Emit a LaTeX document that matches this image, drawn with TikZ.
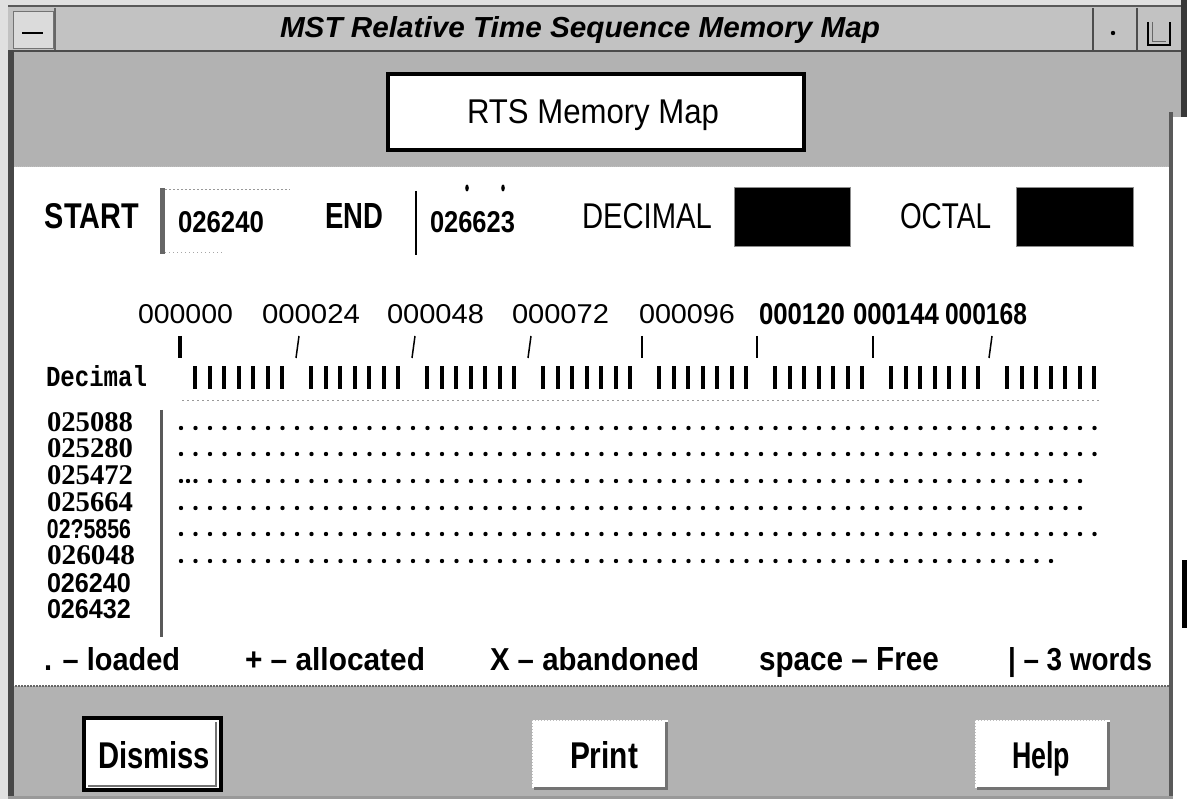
\documentclass[tikz,border=0pt]{standalone}
\usepackage{fontspec}
\usepackage{graphicx}
\setmainfont{Liberation Sans}
\newfontfamily\serifb{Liberation Serif}
\newfontfamily\monob{Liberation Mono}
\newcommand{\fitt}[3]{\resizebox{#1pt}{#2pt}{#3}}
\begin{document}
\begin{tikzpicture}[x=1pt,y=-1pt,
  txt/.style={inner sep=0pt,outer sep=0pt,anchor=base west},
  panelgray/.style={fill=black!30},
  bar/.style={fill=black}]
\useasboundingbox (0,0) rectangle (1187,799);
\fill[white] (0,0) rectangle (1187,799);
% outer light strips
\fill[black!12] (0,0) rectangle (8,799);
\fill[black!12] (0,0) rectangle (1187,5);
% title bar
\fill[black!24] (8,5) rectangle (1184,52);
\draw[black!65,line width=1.5] (8,6) -- (1184,6);
\draw[black!70,line width=1.5] (8,51) -- (1181,51);
\fill[black!14] (13,12) rectangle (53,49);
\draw[black!55,line width=1] (13,12) rectangle (53,49);
\draw[black!60,line width=1.2] (55,8) -- (55,50);
\draw[line width=1.6] (22,33) -- (43,33);
\draw[black!70,line width=1.2] (1093,8) -- (1093,50);
\draw[black!70,line width=1.2] (1137,8) -- (1137,50);
\fill (1113,33) circle (2.2);
\draw[line width=1.6] (1148,22) -- (1148,45) -- (1170,45) -- (1170,22);
\draw[black!60,line width=0.8] (1152,22) -- (1152,41) -- (1166,41);
\node[txt] (title) at (280,38) {\fitt{600}{21}{\bfseries\itshape MST Relative Time Sequence Memory Map}};
% body gray
\fill[black!30] (14,52) rectangle (1172,167);
\fill[black!30] (1172,52) rectangle (1181,117);
\fill[black!30] (14,686) rectangle (1172,796);
% white panel
\fill[white] (15,167) rectangle (1170,686);
\draw[black!25,line width=1,dash pattern=on 1pt off 1pt] (15,167) -- (1170,167);
\draw[black!60,line width=1.2,dash pattern=on 2pt off 1pt] (15,686) -- (1170,686);
% frame
\fill[black!72] (8,50) rectangle (14,799);
\fill[black!78] (1181,0) rectangle (1187,117);
\fill[black!65] (1169,112) rectangle (1173,799);
\fill[black!40] (8,796) rectangle (1173,799);
\fill[black] (1182,560) rectangle (1187,628);
% RTS button
\draw[line width=4,fill=white] (388,74) rectangle (804,150);
\node[txt] (rts) at (467,124) {\fitt{252}{24}{RTS Memory Map}};
% START row
\node[txt] (start) at (45,229) {\fitt{94}{25}{\bfseries START}};
\fill[black!60] (160,188) rectangle (165,254);
\draw[black!40,dash pattern=on 2pt off 2pt] (165,189) -- (290,189);
\draw[black!35,dash pattern=on 1pt off 3pt] (165,252) -- (222,252);
\node[txt] (startval) at (178,233) {\fitt{86}{21}{\bfseries 026240}};
\node[txt] (endlbl) at (325,229) {\fitt{58}{25}{\bfseries END}};
\draw[line width=2] (416,191) -- (416,255);
\fill (467,188) ellipse (1.8 and 3.5);
\fill (503,188) ellipse (1.8 and 3.5);
\node[txt] (endval) at (430,233) {\fitt{85}{21}{\bfseries 026623}};
\node[txt] (declbl) at (582,229) {\fitt{130}{25}{DECIMAL}};
\fill[black] (734,188) rectangle (850,247);
\draw[black!45,line width=1] (734,188) rectangle (850,247);
\node[txt] (octlbl) at (900,229) {\fitt{91}{25}{OCTAL}};
\fill[black] (1016,188) rectangle (1133,247);
\draw[black!45,line width=1] (1016,188) rectangle (1133,247);
% scale labels
\node[txt] (s0) at (138,324) {\fitt{95}{19}{000000}};
\node[txt] (s1) at (262,324) {\fitt{98}{19}{000024}};
\node[txt] (s2) at (387,324) {\fitt{97}{19}{000048}};
\node[txt] (s3) at (512,324) {\fitt{97}{19}{000072}};
\node[txt] (s4) at (639,324) {\fitt{96}{19}{000096}};
\node[txt] (s5) at (759,325) {\fitt{86}{21}{\bfseries 000120}};
\node[txt] (s6) at (853,325) {\fitt{86}{21}{\bfseries 000144}};
\node[txt] (s7) at (945,325) {\fitt{82}{21}{\bfseries 000168}};
% ticks
\draw[line width=4] (180,336) -- (180,358);
\foreach \x in {297,413,529,990} \draw[line width=1.5] ({\x-1},358) -- ({\x+2},336);
\foreach \x in {642,757,873} \draw[line width=2] (\x,336) -- (\x,358);
% Decimal row
\node[txt] (decimal) at (46,387) {\fitt{101}{21}{\monob\bfseries Decimal}};
\foreach \k in {0,...,63} {
  \pgfmathtruncatemacro\m{mod(\k,8)}
  \ifnum\m<7 \fill[bar] ({195+14.5*\k-2},366) rectangle ++(4,23); \fi
}
\draw[black!40,line width=0.8,dash pattern=on 2pt off 3pt] (182,400) -- (1100,400);
% separator
\draw[black!65,line width=3] (161,410) -- (161,637);
% row labels
\node[txt] (r0) at (47,432) {\fitt{86}{19}{\serifb\bfseries 025088}};
\node[txt] (r1) at (47,458) {\fitt{86}{19}{\serifb\bfseries 025280}};
\node[txt] (r2) at (47,485) {\fitt{86}{19}{\serifb\bfseries 025472}};
\node[txt] (r3) at (47,512) {\fitt{86}{19}{\serifb\bfseries 025664}};
\node[txt] (r4) at (47,538) {\fitt{84}{19}{\bfseries 02?5856}};
\node[txt] (r5) at (47,565) {\fitt{88}{19}{\serifb\bfseries 026048}};
\node[txt] (r6) at (47,592) {\fitt{84}{19}{\bfseries 026240}};
\node[txt] (r7) at (47,618) {\fitt{84}{19}{\bfseries 026432}};
% dots
\foreach \r/\n in {428/63,454/63,481/62,508/62,534/63,561/60} {
  \foreach \k in {0,...,\n} \fill ({181+14.5*\k},\r) circle (2.2);
}
\fill (188,481) circle (2.2);
% legend
\node[txt] (l0) at (44,670) {\fitt{136}{23}{\bfseries . – loaded}};
\node[txt] (l1) at (245,670) {\fitt{180}{23}{\bfseries + – allocated}};
\node[txt] (l2) at (490,670) {\fitt{209}{23}{\bfseries X – abandoned}};
\node[txt] (l3) at (759,670) {\fitt{180}{23}{\bfseries space – Free}};
\node[txt] (l4) at (1008,670) {\fitt{144}{23}{\bfseries | – 3 words}};
% buttons
\draw[line width=4,fill=white] (84,718) rectangle (221,790);
\draw[black!55,line width=2] (216,722) -- (216,786) -- (88,786);
\node[txt] (dismiss) at (98,768) {\fitt{112}{27}{\bfseries Dismiss}};
\fill[white] (532,720) rectangle (668,788);
\draw[black!55,line width=3] (666,722) -- (666,788) -- (534,788);
\draw[black!25,line width=1,dash pattern=on 1pt off 2pt] (532,720) -- (664,720);
\draw[black!25,line width=1,dash pattern=on 1pt off 2pt] (532,720) -- (532,786);
\node[txt] (print) at (570,768) {\fitt{68}{27}{\bfseries Print}};
\fill[white] (975,720) rectangle (1110,788);
\draw[black!55,line width=3] (1108,722) -- (1108,788) -- (977,788);
\draw[black!25,line width=1,dash pattern=on 1pt off 2pt] (975,720) -- (1106,720);
\draw[black!25,line width=1,dash pattern=on 1pt off 2pt] (975,720) -- (975,786);
\node[txt] (help) at (1012,768) {\fitt{58}{27}{\bfseries Help}};
\end{tikzpicture}
\end{document}
